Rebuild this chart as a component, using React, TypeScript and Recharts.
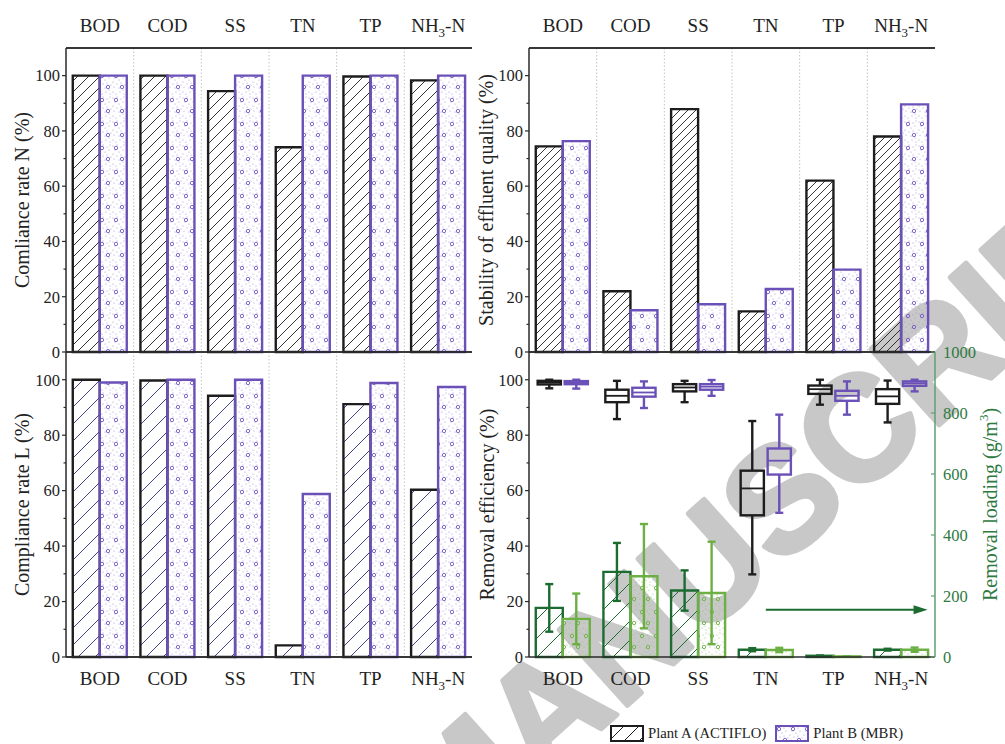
import React from 'react';
import { ComposedChart, BarChart, Bar, Line, XAxis, YAxis, ReferenceLine, CartesianGrid, ErrorBar, Legend } from 'recharts';

const categories = ['BOD', 'COD', 'SS', 'TN', 'TP', 'NH3-N'];

// compliance rate N (%)
const complianceNA = [100, 100, 94.4, 74.1, 99.7, 98.3];
const complianceNB = [100, 100, 100, 100, 100, 100];
// compliance rate L (%)
const complianceLA = [100, 99.7, 94.2, 4.2, 91.2, 60.3];
const complianceLB = [99.0, 100, 100, 58.8, 98.8, 97.4];
// stability of effluent quality (%)
const stabilityA = [74.4, 22.0, 87.9, 14.7, 62.0, 78.0];
const stabilityB = [76.3, 15.1, 17.3, 22.8, 29.8, 89.6];
// removal loading (g/m3): mean and sd
const loadingA = [161, 279, 218, 24, 4, 24];
const loadingAErr = [78, 95, 66, 5, 1, 3];
const loadingB = [125, 265, 210, 23, 2, 24];
const loadingBErr = [83, 171, 168, 7, 0.5, 7];
// removal efficiency (%) boxes: min, q1, median, q3, max
const effALow = [96.9, 85.8, 91.9, 29.8, 91.0, 84.6];
const effAQ1 = [98.3, 91.9, 95.8, 51.1, 94.9, 91.3];
const effAMed = [99.0, 94.2, 97.2, 60.8, 96.6, 94.0];
const effAQ3 = [99.6, 96.4, 98.4, 67.2, 97.9, 96.6];
const effAHigh = [100, 99.6, 99.6, 85.1, 100, 99.7];
const effBLow = [96.8, 89.8, 94.2, 52.0, 87.4, 95.8];
const effBQ1 = [98.4, 93.9, 96.4, 65.8, 92.4, 97.8];
const effBMed = [99.0, 95.4, 97.5, 70.8, 94.2, 98.7];
const effBQ3 = [99.5, 97.1, 98.4, 75.2, 96.0, 99.4];
const effBHigh = [100, 99.4, 99.9, 87.4, 99.4, 100];

const pctTicks = [0, 10, 20, 30, 40, 50, 60, 70, 80, 90, 100];
const loadTicks = [0, 200, 400, 600, 800, 1000];
const arrowLevel = 155; // g/m3, points at the loading axis
const legendLabels = ['Plant A (ACTIFLO)', 'Plant B (MBR)'];

const FONT = '"Liberation Serif", "Times New Roman", serif';
const INK = '#222';
const BLACK = '#1d1d1d';
const PURPLE = '#6b51b7';
const NAVY = '#2d307a';
const DKGREEN = '#1c6b31';
const LTGREEN = '#6cb044';
const AXGREEN = '#5f9f72';
const TXGREEN = '#2f7a3f';
const FRAME = '#2a2a2a';
const frame = { stroke: FRAME, strokeWidth: 1.5 };

const nData = categories.map((cat, i) => ({ cat, a: complianceNA[i], b: complianceNB[i] }));
const lData = categories.map((cat, i) => ({ cat, a: complianceLA[i], b: complianceLB[i] }));
const sData = categories.map((cat, i) => ({ cat, a: stabilityA[i], b: stabilityB[i] }));
const rData = categories.map((cat, i) => ({
  cat,
  a: loadingA[i],
  aErr: loadingAErr[i],
  b: loadingB[i],
  bErr: loadingBErr[i],
  med: effAMed[i],
  boxA: [effALow[i], effAHigh[i]],
  boxB: [effBLow[i], effBHigh[i]],
  aStats: [effALow[i], effAQ1[i], effAMed[i], effAQ3[i], effAHigh[i]],
  bStats: [effBLow[i], effBQ1[i], effBMed[i], effBQ3[i], effBHigh[i]],
}));

// pattern fills
const Hatch = ({ id, gap, color, w = 0.9 }: any) => (
  <pattern id={id} width={gap} height={gap} patternUnits="userSpaceOnUse">
    <path
      d={`M0,${gap} L${gap},0 M${-gap / 2},${gap / 2} L${gap / 2},${-gap / 2} M${gap / 2},${gap * 1.5} L${gap * 1.5},${gap / 2}`}
      stroke={color}
      strokeWidth={w}
    />
  </pattern>
);

const tinyDots = [
  [1, 2], [5, 1], [9, 3], [12, 1], [3, 6], [7, 8], [11, 6], [1, 10], [5, 12],
  [9, 11], [13, 13], [2, 15], [7, 16], [11, 18], [1, 20], [4, 22], [8, 20], [12, 22],
];
const rings = [[4, 4], [10, 15]];

const Dots = ({ id, dot, ring }: any) => (
  <pattern id={id} width={14} height={24} patternUnits="userSpaceOnUse">
    {tinyDots.map(([x, y], i) => (
      <circle key={i} cx={x} cy={y} r={0.55} fill={dot} />
    ))}
    {rings.map(([x, y], i) => (
      <circle key={`r${i}`} cx={x} cy={y} r={1.7} fill="none" stroke={ring} strokeWidth={0.9} />
    ))}
  </pattern>
);

const CatTick = ({ x, y, payload, dy }: any) => {
  const v = payload.value;
  return (
    <text x={x} y={y} dy={dy} textAnchor="middle" fill={INK} fontSize={19} fontFamily={FONT}>
      {v === 'NH3-N' ? (
        <>
          <tspan>NH</tspan>
          <tspan dy={5} fontSize={13}>3</tspan>
          <tspan dy={-5}>-N</tspan>
        </>
      ) : (
        v
      )}
    </text>
  );
};

// tick with major / minor marks
const ValTick = ({ x, y, payload, side = 'left', off = 6, step = 20, color = INK, lineColor = FRAME }: any) => {
  const major = payload.value % step === 0;
  const ax = side === 'left' ? x + off : x - off;
  const len = major ? 4 : 2.5;
  return (
    <g>
      <line x1={ax} x2={ax - len} y1={y} y2={y} stroke={lineColor} strokeWidth={1.2} />
      {major && (
        <text
          x={x}
          y={y}
          dy="0.35em"
          textAnchor={side === 'left' ? 'end' : 'start'}
          fill={color}
          fontSize={16.5}
          fontFamily={FONT}
        >
          {payload.value}
        </text>
      )}
    </g>
  );
};

const RotTitle = ({ vb, dx, color = INK, children }: any) => {
  if (!vb) return null;
  const cx = vb.x + vb.width / 2 + dx;
  const cy = vb.y + vb.height / 2;
  return (
    <text
      x={cx}
      y={cy}
      transform={`rotate(-90 ${cx} ${cy})`}
      textAnchor="middle"
      dominantBaseline="central"
      fill={color}
      fontSize={20}
      fontFamily={FONT}
    >
      {children}
    </text>
  );
};

const BoxShape = (props: any) => {
  const { x, y, width, height, payload, color, statKey } = props;
  const [lo, q1, med, q3, hi] = payload[statKey];
  const top = Math.min(y, y + height);
  const h = Math.abs(height);
  const py = (v: number) => top + (h * (hi - v)) / (hi - lo);
  const cx = x + width / 2;
  const bw = width * 0.86;
  const cap = 4;
  return (
    <g stroke={color} strokeWidth={2.4} fill="none">
      <line x1={cx} x2={cx} y1={py(hi)} y2={py(q3)} />
      <line x1={cx} x2={cx} y1={py(q1)} y2={py(lo)} />
      <line x1={cx - cap} x2={cx + cap} y1={py(hi)} y2={py(hi)} />
      <line x1={cx - cap} x2={cx + cap} y1={py(lo)} y2={py(lo)} />
      <rect x={cx - bw / 2} y={py(q3)} width={bw} height={py(q1) - py(q3)} />
      <line x1={cx - bw / 2} x2={cx + bw / 2} y1={py(med)} y2={py(med)} strokeWidth={1.8} />
    </g>
  );
};

// arrow from the TN centre to the outer edge of the last bar pair
const ArrowShape = (props: any) => {
  const { x1, y1, x2, y2 } = props;
  if (x1 == null || x2 == null) return null;
  const band = (x2 - x1) / 2;
  const tip = x2 + band * 0.39;
  return (
    <g>
      <line x1={x1} y1={y1} x2={tip - 10} y2={y2} stroke={DKGREEN} strokeWidth={2} />
      <polygon points={`${tip},${y2} ${tip - 14},${y2 - 4.5} ${tip - 14},${y2 + 4.5}`} fill={DKGREEN} />
    </g>
  );
};

const LegendContent = ({ payload }: any) => {
  const named = (payload || []).filter((p: any) => legendLabels.includes(p.value));
  const labels = named.length === 2 ? named.map((p: any) => p.value) : legendLabels;
  return (
    <div style={{ display: 'flex', alignItems: 'center', fontFamily: FONT, fontSize: 14.7, color: INK, whiteSpace: 'nowrap' }}>
      {labels.map((label: string, i: number) => (
        <div key={label} style={{ display: 'flex', alignItems: 'center', marginRight: i === 0 ? 9 : 0 }}>
          <svg width={34} height={17} style={{ marginRight: 4 }}>
            <rect
              x={1}
              y={1}
              width={32}
              height={15}
              fill={i === 0 ? 'url(#lg-h)' : 'url(#lg-d)'}
              stroke={i === 0 ? BLACK : PURPLE}
              strokeWidth={2}
            />
          </svg>
          <span>{label}</span>
        </div>
      ))}
    </div>
  );
};

// dotted separators between the category bands
const bandEdges = ({ offset }: any) =>
  [1, 2, 3, 4, 5].map((k) => offset.left + (offset.width * k) / categories.length);

interface PanelProps {
  id: string;
  left: number;
  top: number;
  width: number;
  height: number;
  margin: { top: number; right: number; bottom: number; left: number };
  data: any[];
  side: 'top' | 'bottom';
  yWidth: number;
  title: string;
  titleDx: number;
  hatchGap: number;
  hatchColor: string;
}

function PairPanel({ id, left, top, width, height, margin, data, side, yWidth, title, titleDx, hatchGap, hatchColor }: PanelProps) {
  return (
    <div style={{ position: 'absolute', left, top }}>
      <ComposedChart width={width} height={height} data={data} margin={margin} barCategoryGap="10%" barGap={0}>
        <defs>
          <Hatch id={`${id}-h`} gap={hatchGap} color={hatchColor} />
          <Dots id={`${id}-d`} dot="#9d8fd6" ring="#7357c4" />
        </defs>
        <XAxis
          xAxisId="cat"
          dataKey="cat"
          orientation={side}
          height={side === 'top' ? 48 : 87}
          interval={0}
          tickSize={0}
          tickMargin={0}
          tickLine={false}
          axisLine={frame}
          tick={(p: any) => <CatTick {...p} dy={side === 'top' ? -16 : 28} />}
        />
        <YAxis
          yAxisId="pct"
          domain={[0, 110]}
          ticks={pctTicks}
          interval={0}
          width={yWidth}
          tickSize={4}
          tickMargin={2}
          tickLine={false}
          axisLine={frame}
          tick={(p: any) => <ValTick {...p} />}
          label={(p: any) => (
            <RotTitle vb={p.viewBox} dx={titleDx}>
              {title}
            </RotTitle>
          )}
        />
        <YAxis yAxisId="edge" orientation="right" width={0} domain={[0, 110]} tick={false} tickLine={false} axisLine={frame} />
        <CartesianGrid
          xAxisId="cat"
          yAxisId="pct"
          horizontal={false}
          verticalCoordinatesGenerator={bandEdges}
          stroke="#b3b3b3"
          strokeWidth={0.8}
          strokeDasharray="1.5 2"
        />
        <ReferenceLine xAxisId="cat" yAxisId="pct" y={0} stroke={FRAME} strokeWidth={1.5} />
        <ReferenceLine xAxisId="cat" yAxisId="pct" y={110} stroke={FRAME} strokeWidth={1.5} />
        {/* keeps the right frame axis populated; drawn invisibly */}
        <Line
          xAxisId="cat"
          yAxisId="edge"
          dataKey="a"
          stroke="none"
          dot={false}
          activeDot={false}
          legendType="none"
          isAnimationActive={false}
        />
        <Bar
          xAxisId="cat"
          yAxisId="pct"
          dataKey="a"
          fill={`url(#${id}-h)`}
          stroke={BLACK}
          strokeWidth={2.4}
          isAnimationActive={false}
        />
        <Bar
          xAxisId="cat"
          yAxisId="pct"
          dataKey="b"
          fill={`url(#${id}-d)`}
          stroke={PURPLE}
          strokeWidth={2.4}
          isAnimationActive={false}
        />
      </ComposedChart>
    </div>
  );
}

export default function App() {
  return (
    <div style={{ position: 'absolute', left: 0, top: 0, width: 1005, height: 744, background: '#fff', overflow: 'hidden' }}>
      {/* watermark behind the panels */}
      <svg width={1005} height={744} style={{ position: 'absolute', left: 0, top: 0 }}>
        <text
          x={449}
          y={866}
          transform="rotate(-42 449 866)"
          fontFamily='"Liberation Sans", Arial, sans-serif'
          fontWeight="bold"
          fontSize={148}
          fill="#c8c8c8"
          stroke="#c8c8c8"
          strokeWidth={5}
          strokeLinejoin="round"
        >
          MANUSCRIPT
        </text>
      </svg>

      <PairPanel
        id="tl"
        left={0}
        top={0}
        width={480}
        height={370}
        margin={{ top: 0, right: 8, bottom: 18, left: 0 }}
        data={nData}
        side="top"
        yWidth={66}
        title="Comliance rate N (%)"
        titleDx={-11}
        hatchGap={11}
        hatchColor={BLACK}
      />
      <PairPanel
        id="bl"
        left={0}
        top={344}
        width={480}
        height={400}
        margin={{ top: 8, right: 8, bottom: 0, left: 0 }}
        data={lData}
        side="bottom"
        yWidth={66}
        title="Compliance rate L (%)"
        titleDx={-11}
        hatchGap={17}
        hatchColor={NAVY}
      />
      <PairPanel
        id="tr"
        left={470}
        top={0}
        width={535}
        height={370}
        margin={{ top: 0, right: 70, bottom: 18, left: 0 }}
        data={sData}
        side="top"
        yWidth={59}
        title="Stability of effluent quality (%)"
        titleDx={-14}
        hatchGap={8}
        hatchColor={BLACK}
      />

      {/* removal loading bars with removal efficiency axis */}
      <div style={{ position: 'absolute', left: 470, top: 344 }}>
        <ComposedChart width={535} height={400} data={rData} margin={{ top: 8, right: 0, bottom: 0, left: 0 }} barCategoryGap="10%" barGap={0}>
          <defs>
            <Hatch id="br-h" gap={19} color={DKGREEN} w={1} />
            <Dots id="br-d" dot="#8cc46a" ring={LTGREEN} />
            <Hatch id="lg-h" gap={15} color={BLACK} w={1} />
            <Dots id="lg-d" dot="#9d8fd6" ring="#7357c4" />
          </defs>
          <XAxis
            xAxisId="cat"
            dataKey="cat"
            orientation="bottom"
            height={87}
            interval={0}
            tickSize={0}
            tickMargin={0}
            tickLine={false}
            axisLine={frame}
            tick={(p: any) => <CatTick {...p} dy={28} />}
          />
          <YAxis
            yAxisId="pct"
            domain={[0, 110]}
            ticks={pctTicks}
            interval={0}
            width={59}
            tickSize={4}
            tickMargin={2}
            tickLine={false}
            axisLine={frame}
            tick={(p: any) => <ValTick {...p} />}
            label={(p: any) => (
              <RotTitle vb={p.viewBox} dx={-13}>
                Removal efficiency (%)
              </RotTitle>
            )}
          />
          <YAxis
            yAxisId="load"
            orientation="right"
            domain={[0, 1000]}
            ticks={loadTicks}
            interval={0}
            width={70}
            tickSize={4}
            tickMargin={4}
            tickLine={false}
            axisLine={{ stroke: AXGREEN, strokeWidth: 1.5 }}
            tick={(p: any) => <ValTick {...p} side="right" off={8} step={200} color={TXGREEN} lineColor={AXGREEN} />}
            label={(p: any) => (
              <RotTitle vb={p.viewBox} dx={20} color={TXGREEN}>
                <tspan>Removal loading (g/m</tspan>
                <tspan dy={-7} fontSize={13}>3</tspan>
                <tspan dy={7}>)</tspan>
              </RotTitle>
            )}
          />
          <ReferenceLine xAxisId="cat" yAxisId="pct" y={110} stroke={FRAME} strokeWidth={1.5} />
          {/* keeps the efficiency axis populated; drawn invisibly */}
          <Line
            xAxisId="cat"
            yAxisId="pct"
            dataKey="med"
            stroke="none"
            dot={false}
            activeDot={false}
            legendType="none"
            isAnimationActive={false}
          />
          <Bar
            xAxisId="cat"
            yAxisId="load"
            dataKey="a"
            name={legendLabels[0]}
            fill="url(#br-h)"
            stroke={DKGREEN}
            strokeWidth={2.4}
            isAnimationActive={false}
          >
            <ErrorBar dataKey="aErr" direction="y" width={4} stroke={DKGREEN} strokeWidth={2.4} />
          </Bar>
          <Bar
            xAxisId="cat"
            yAxisId="load"
            dataKey="b"
            name={legendLabels[1]}
            fill="url(#br-d)"
            stroke={LTGREEN}
            strokeWidth={2.4}
            isAnimationActive={false}
          >
            <ErrorBar dataKey="bErr" direction="y" width={4} stroke={LTGREEN} strokeWidth={2.4} />
          </Bar>
          <ReferenceLine
            xAxisId="cat"
            yAxisId="load"
            segment={[
              { x: 'TN', y: arrowLevel },
              { x: 'NH3-N', y: arrowLevel },
            ]}
            shape={(p: any) => <ArrowShape {...p} />}
          />
          <Legend
            layout="vertical"
            align="center"
            verticalAlign="middle"
            wrapperStyle={{ left: 140, top: 381 }}
            content={(p: any) => <LegendContent {...p} />}
          />
        </ComposedChart>
      </div>

      {/* removal efficiency boxes on the same frame */}
      <div style={{ position: 'absolute', left: 470, top: 344 }}>
        <BarChart width={535} height={400} data={rData} margin={{ top: 8, right: 70, bottom: 87, left: 59 }} barCategoryGap="10%" barGap={0}>
          <XAxis dataKey="cat" hide />
          <YAxis domain={[0, 110]} hide />
          <Bar dataKey="boxA" isAnimationActive={false} shape={(p: any) => <BoxShape {...p} color={BLACK} statKey="aStats" />} />
          <Bar dataKey="boxB" isAnimationActive={false} shape={(p: any) => <BoxShape {...p} color={PURPLE} statKey="bStats" />} />
        </BarChart>
      </div>
    </div>
  );
}
